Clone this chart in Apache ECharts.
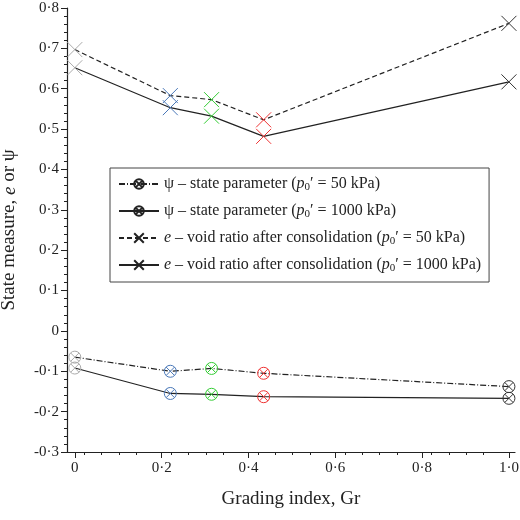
<!DOCTYPE html>
<html>
<head>
<meta charset="UTF-8">
<script src="https://cdn.jsdelivr.net/npm/echarts@6/dist/echarts.min.js"></script>
<style>html,body{margin:0;padding:0;background:#fff}#c{width:520px;height:520px}</style>
</head>
<body>
<div id="c"></div>
<script>
var gradingIndex = [0, 0.22, 0.315, 0.435, 1.0];
var pointColors = ['#aaaaaa', '#4a78b8', '#33cc33', '#ee3333', '#333333'];
var e50 = [0.697, 0.583, 0.573, 0.523, 0.762];
var e1000 = [0.652, 0.553, 0.532, 0.482, 0.617];
var psi50 = [-0.065, -0.100, -0.093, -0.105, -0.138];
var psi1000 = [-0.092, -0.155, -0.157, -0.163, -0.167];

var crossPath = 'path://M0,0L10,10M10,0L0,10';
var circCrossPath = 'path://M0,5A5,5 0 1,0 10,5A5,5 0 1,0 0,5ZM1.5,1.5L8.5,8.5M8.5,1.5L1.5,8.5';
var font = 'Liberation Serif';

function pts(vals) {
  return vals.map(function (v, i) {
    return { value: [gradingIndex[i], v], itemStyle: { borderColor: pointColors[i] } };
  });
}
function mk(name, vals, sym, size, dash) {
  return {
    name: name, type: 'line', data: pts(vals), symbol: sym, symbolSize: size,
    showAllSymbol: true,
    lineStyle: { color: '#222', width: 1.2, type: dash },
    itemStyle: { color: 'none', borderColor: '#222', borderWidth: 1 },
    emphasis: { disabled: true }
  };
}
function fmt(v) {
  var s = Math.abs(v) < 1e-9 ? '0' : (Math.round(v * 10) / 10).toString();
  if (v === 1) s = '1.0';
  return s.replace('.', '·');
}

var chart = echarts.init(document.getElementById('c'));
chart.setOption({
  animation: false,
  grid: { left: 67, right: 5, top: 8, bottom: 68, containLabel: false, outerBoundsMode: 'none' },
  xAxis: {
    type: 'value', min: -0.018, max: 1.014, interval: 0.2,
    name: '{n|Grading index, Gr}', nameLocation: 'middle', nameGap: 38,
    nameTextStyle: { rich: { n: { fontFamily: font, fontSize: 19, color: '#222' } } },
    axisLine: { show: true, onZero: false, lineStyle: { color: '#222', width: 1.2 } },
    axisTick: { show: true, length: 6, lineStyle: { color: '#222' }, customValues: [0, 0.2, 0.4, 0.6, 0.8, 1.0] },
    minorTick: { show: true, splitNumber: 5, length: 3, lineStyle: { color: '#222' } },
    axisLabel: { fontFamily: font, fontSize: 15, color: '#222', margin: 9, customValues: [0, 0.2, 0.4, 0.6, 0.8, 1.0], formatter: fmt },
    splitLine: { show: false }
  },
  yAxis: {
    type: 'value', min: -0.3, max: 0.8, interval: 0.1,
    name: '{n|State measure, }{i|e}{n| or ψ}', nameLocation: 'middle', nameGap: 48,
    nameTextStyle: { rich: { n: { fontFamily: font, fontSize: 19, color: '#222' }, i: { fontFamily: font, fontSize: 19, fontStyle: 'italic', color: '#222' } } },
    axisLine: { show: true, onZero: false, lineStyle: { color: '#222', width: 1.2 } },
    axisTick: { show: true, length: 6, lineStyle: { color: '#222' } },
    minorTick: { show: true, splitNumber: 5, length: 3, lineStyle: { color: '#222' } },
    axisLabel: { fontFamily: font, fontSize: 15, color: '#222', margin: 8, formatter: fmt },
    splitLine: { show: false }
  },
  legend: {
    orient: 'vertical', left: 110, top: 168, itemWidth: 40, itemHeight: 12, itemGap: 10,
    padding: [8, 8, 8, 8], borderColor: '#444', borderWidth: 1, backgroundColor: '#fff',
    selectedMode: false,
    textStyle: {
      fontFamily: font, fontSize: 16, color: '#222',
      rich: {
        t: { fontFamily: font, fontSize: 16, color: '#222' },
        i: { fontFamily: font, fontSize: 16, fontStyle: 'italic', color: '#222' },
        s: { fontFamily: font, fontSize: 11, color: '#222', verticalAlign: 'bottom', padding: [7, 0, 0, 0] }
      }
    },
    formatter: function (n) {
      var p = n.split('|');
      var lead = p[0] === 'psi' ? '{t|ψ – state parameter (}' : '{i|e}{t| – void ratio after consolidation (}';
      return lead + '{i|p}{s|0}{t|′ = ' + p[1] + ' kPa)}';
    },
    data: ['psi|50', 'psi|1000', 'e|50', 'e|1000']
  },
  series: [
    mk('psi|50', psi50, circCrossPath, 12, [6, 2, 1, 2]),
    mk('psi|1000', psi1000, circCrossPath, 12, 'solid'),
    mk('e|50', e50, crossPath, 15, [5, 3]),
    mk('e|1000', e1000, crossPath, 15, 'solid')
  ]
});
</script>
</body>
</html>
